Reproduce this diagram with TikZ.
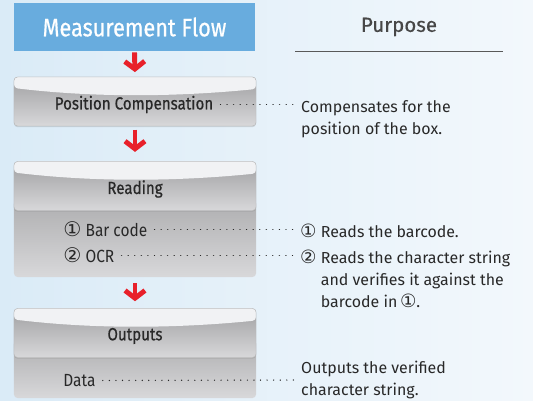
\documentclass[tikz,border=0pt]{standalone}
\usepackage{fontspec}
\setmainfont{Fira Sans}
\newfontfamily\dinfont[FakeStretch=0.86,FakeBold=0.6]{Fira Sans}
\newfontfamily\condfont[FakeStretch=0.88]{Fira Sans}
\newfontfamily\headfont[FakeBold=0.4]{Fira Sans}
\newfontfamily\symfont[Scale=1.15]{DejaVu Sans}
\usetikzlibrary{arrows.meta,shadows}
\definecolor{bgleft}{RGB}{218,235,247}
\definecolor{bgright}{RGB}{243,248,252}
\definecolor{headblue}{RGB}{104,172,222}
\definecolor{flowred}{RGB}{232,32,42}
\definecolor{txtgray}{RGB}{40,40,40}
\definecolor{boxdark}{RGB}{160,160,162}
\definecolor{boxlight}{RGB}{216,216,218}
\definecolor{boxhi}{RGB}{241,242,244}
\newcommand\cnum[1]{{\symfont\ifcase#1\or ①\or ②\fi}}
\tikzset{
  stagebox/.style={minimum width=7.26cm, minimum height=1.47cm, inner sep=0pt,
    rounded corners=3pt, draw=gray!55, line width=0.4pt,
    top color=boxdark, bottom color=boxlight,
    drop shadow={shadow xshift=0pt, shadow yshift=-1pt, opacity=0.25},
    path picture={
      \fill[boxhi] ([yshift=-0.33cm]path picture bounding box.north west)
        .. controls ([xshift=2.4cm,yshift=-0.62cm]path picture bounding box.north west)
        and ([xshift=-2.4cm,yshift=-0.6cm]path picture bounding box.north east)
        .. ([yshift=-0.36cm]path picture bounding box.north east)
        -- (path picture bounding box.north east)
        -- (path picture bounding box.north west) -- cycle;}},
  stagebody/.style={minimum width=7.26cm, inner sep=0pt, rounded corners=3pt,
    top color=boxdark!85!white, bottom color=boxlight},
  stagelbl/.style={inner sep=1pt, font=\dinfont\fontsize{15}{17}\selectfont, text=txtgray},
  itemlbl/.style={anchor=west, inner sep=1pt, font=\condfont\fontsize{15}{17}\selectfont, text=txtgray},
  purpose/.style={anchor=north west, inner sep=0pt, align=left,
    font=\fontsize{13.6}{18.7}\selectfont, text=txtgray},
  leader/.style={txtgray, line width=1.2pt, line cap=round,
    dash pattern=on 0.01pt off 5.6pt, shorten <=5pt, shorten >=5pt},
  flowarrow/.style={flowred, line width=4.2pt,
    -{Straight Barb[length=6.5pt,width=17pt]}}
}
\begin{document}
\begin{tikzpicture}[x=0.03cm,y=-0.03cm]
  %sfondo
  \shade[left color=bgleft, right color=bgright] (0,0) rectangle (533,401);
  \useasboundingbox (0,0) rectangle (533,401);

  %intestazioni
  \node[fill=headblue, minimum width=7.23cm, minimum height=1.44cm, inner sep=0pt,
    text=white, font=\dinfont\fontsize{21.5}{24}\selectfont] (flowhead) at (134.5,27) {Measurement Flow};
  \node[text=black!72, font=\headfont\fontsize{17.5}{20}\selectfont] (purphead) at (399,27) {Purpose};
  \draw[black!65, line width=0.6pt] (295,51) -- (503,51);

  %fase 1
  \node[stagebox] (pos) at (135,101.5) {};
  \node[stagelbl] (poslbl) at (134,104.5) {Position Compensation};

  %fase 2
  \node[stagebody, minimum height=2.31cm] (readbody) at (135,238.5) {};
  \node[stagebox] (read) at (135,186) {};
  \node[stagelbl] (readlbl) at (135,189) {Reading};
  \node[itemlbl] (barcode) at (62,229.5) {\cnum1 Bar code};
  \node[itemlbl] (ocr) at (62,255.5) {\cnum2 OCR};

  %fase 3
  \node[stagebody, minimum height=1.74cm] (outbody) at (135,369) {};
  \node[stagebox] (out) at (135,333) {};
  \node[stagelbl] (outlbl) at (135,336) {Outputs};
  \node[itemlbl] (data) at (62,380.5) {Data};

  %frecce
  \draw[flowarrow, shorten <=1pt, shorten >=4pt] (flowhead.south) -- (pos.north);
  \draw[flowarrow, shorten <=3pt, shorten >=8pt] (pos.south) -- (read.north);
  \draw[flowarrow, shorten <=5pt, shorten >=6pt] (readbody.south) -- (out.north);

  %scopi
  \node[purpose] (pospurp) at (301,100.5) {Compensates for the\\position of the box.};
  \node[purpose] (barpurp) at (300,223.5) {\cnum1 Reads the barcode.};
  \node[purpose] (ocrpurp) at (300,249.5) {\cnum2 Reads the character string\\
    \hphantom{\cnum2 }and verifies it against the\\
    \hphantom{\cnum2 }barcode in\,\cnum1.};
  \node[purpose, anchor=west] (datapurp) at (301,380) {Outputs the verified\\character string.};

  %linee tratteggiate
  \draw[leader] (poslbl.east) -- (poslbl.east -| pospurp.west);
  \draw[leader] (barcode.east) -- (barcode.east -| barpurp.west);
  \draw[leader] (ocr.east) -- (ocr.east -| ocrpurp.west);
  \draw[leader] (data.east) -- (datapurp.west);
\end{tikzpicture}
\end{document}
